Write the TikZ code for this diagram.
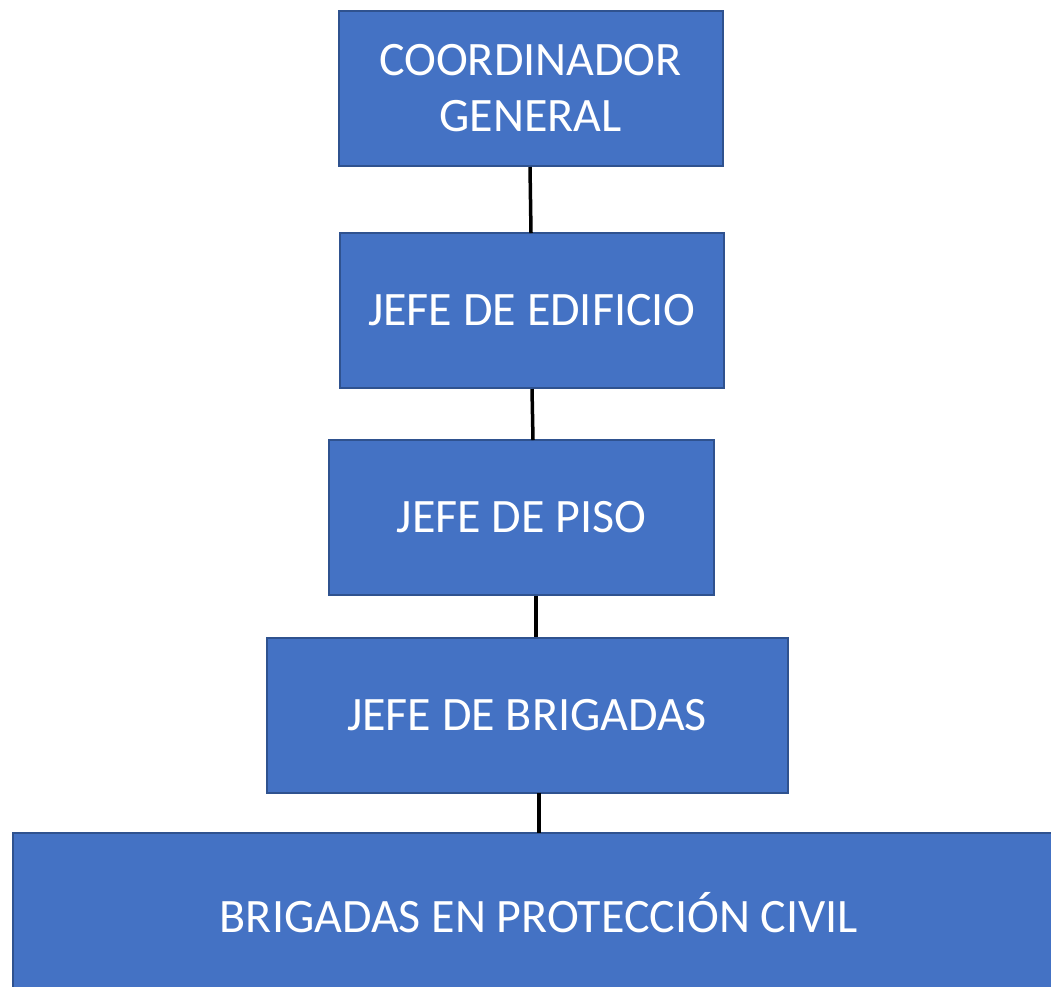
\documentclass[tikz,border=0pt]{standalone}
\usepackage{fontspec}
\setmainfont{Carlito}
\definecolor{boxfill}{HTML}{4472C4}
\definecolor{boxline}{HTML}{2F528F}
\tikzset{
  orgbox/.style={draw=boxline, line width=2pt, fill=boxfill, text=white, inner sep=0pt, outer sep=0pt,
    align=center, font=\fontsize{48}{56}\selectfont},
  link/.style={draw=black, line width=3.5pt}
}
\begin{document}
\begin{tikzpicture}[x=1pt,y=-1pt]
\useasboundingbox (0,0) rectangle (1051,986);
\begin{scope}
\clip (0,0) rectangle (1051,986);
\node[orgbox, minimum width=384, minimum height=155] (a) at (530.5,88.5) {COORDINADOR\\GENERAL};
\node[orgbox, minimum width=384, minimum height=155] (b) at (532,310.5) {JEFE DE EDIFICIO};
\node[orgbox, minimum width=385, minimum height=155] (c) at (521.5,517.5) {JEFE DE PISO};
\node[orgbox, minimum width=521, minimum height=155] (d) at (527,715) {JEFE DE BRIGADAS};
\node[orgbox, minimum width=1052, minimum height=160] (e) at (539,913) {BRIGADAS EN PROTECCIÓN CIVIL};
\coordinate (a1) at (530,167);
\coordinate (b0) at (531,233);
\coordinate (b1) at (532,389);
\coordinate (c0) at (533,440);
\coordinate (c1) at (536,596);
\coordinate (d0) at (536,637);
\coordinate (d1) at (539,793);
\coordinate (e0) at (539,833);
\draw[link] (a1) -- (b0);
\draw[link] (b1) -- (c0);
\draw[link] (c1) -- (d0);
\draw[link] (d1) -- (e0);
\end{scope}
\end{tikzpicture}
\end{document}
